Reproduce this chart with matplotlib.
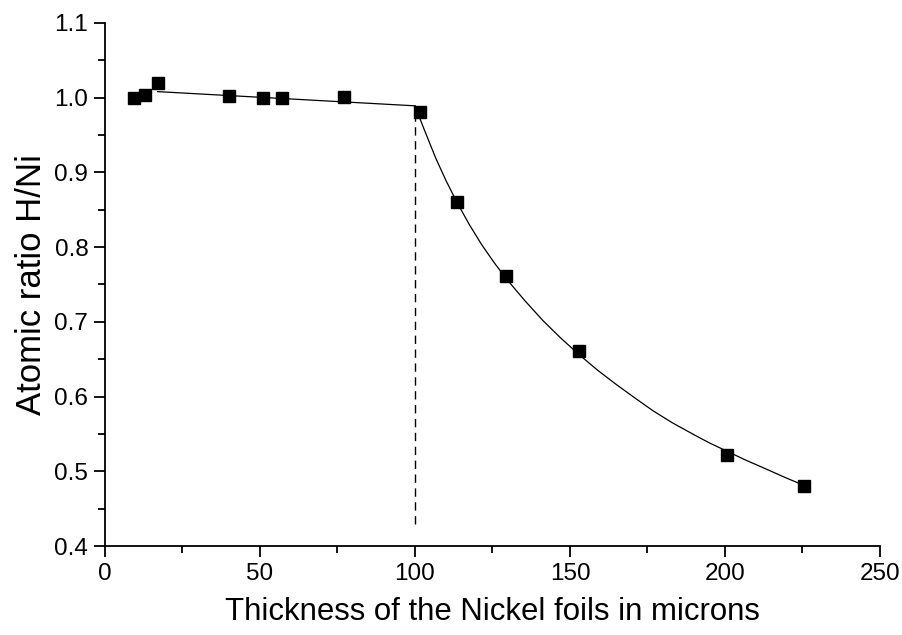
import numpy as np
import matplotlib.pyplot as plt
from matplotlib.ticker import MultipleLocator

plt.rcParams['font.family'] = ['Liberation Sans', 'DejaVu Sans']

# measured points
thickness = [9.5, 13, 17, 40, 51, 57, 77, 101.7, 113.4, 129.4, 153, 200.6, 225.5]
ratio = [1.000, 1.003, 1.020, 1.002, 1.000, 1.000, 1.001, 0.981, 0.861, 0.761, 0.661, 0.522, 0.481]

# fitted lines
flat_x = [17, 100]
flat_y = [1.008, 0.989]
curve_x = [100, 103, 106.7, 110, 113.4, 117.4, 121.4, 125.4, 129.4, 135.3, 141.2,
           147.1, 153, 159, 165, 171, 176.8, 183, 190, 195, 200.6, 206.7, 212.8,
           219, 225]
curve_y = [0.989, 0.957, 0.919, 0.889, 0.861, 0.831, 0.804, 0.780, 0.758, 0.729,
           0.702, 0.678, 0.656, 0.635, 0.616, 0.598, 0.581, 0.565, 0.549, 0.538,
           0.527, 0.515, 0.504, 0.4925, 0.482]
dash_x = [100, 100]
dash_y = [0.43, 0.989]

fig = plt.figure(figsize=(9.02, 6.35), dpi=100)
ax = fig.add_axes([0.1164, 0.140, 0.8592, 0.824])

ax.plot(flat_x, flat_y, color='black', lw=0.9)
ax.plot(curve_x, curve_y, color='black', lw=0.9)
ax.plot(dash_x, dash_y, color='black', lw=1.0, dashes=(6, 4))
ax.plot(thickness, ratio, 's', color='black', markersize=8.5, zorder=3)

ax.set_xlim(0, 250)
ax.set_ylim(0.4, 1.1)
ax.xaxis.set_major_locator(MultipleLocator(50))
ax.xaxis.set_minor_locator(MultipleLocator(25))
ax.yaxis.set_major_locator(MultipleLocator(0.1))
ax.yaxis.set_minor_locator(MultipleLocator(0.05))
ax.yaxis.set_major_formatter(plt.FormatStrFormatter('%.1f'))

for s in ['top', 'right']:
    ax.spines[s].set_visible(False)
for s in ['left', 'bottom']:
    ax.spines[s].set_linewidth(1.3)

ax.tick_params(which='major', direction='out', length=8, width=1.3, labelsize=17.5, pad=4)
ax.tick_params(which='minor', direction='out', length=5, width=1.3)

ax.set_xlabel('Thickness of the Nickel foils in microns', fontsize=22.4, labelpad=9)
ax.set_ylabel('Atomic ratio H/Ni', fontsize=25, labelpad=5)

fig.savefig('out.png', dpi=100)
